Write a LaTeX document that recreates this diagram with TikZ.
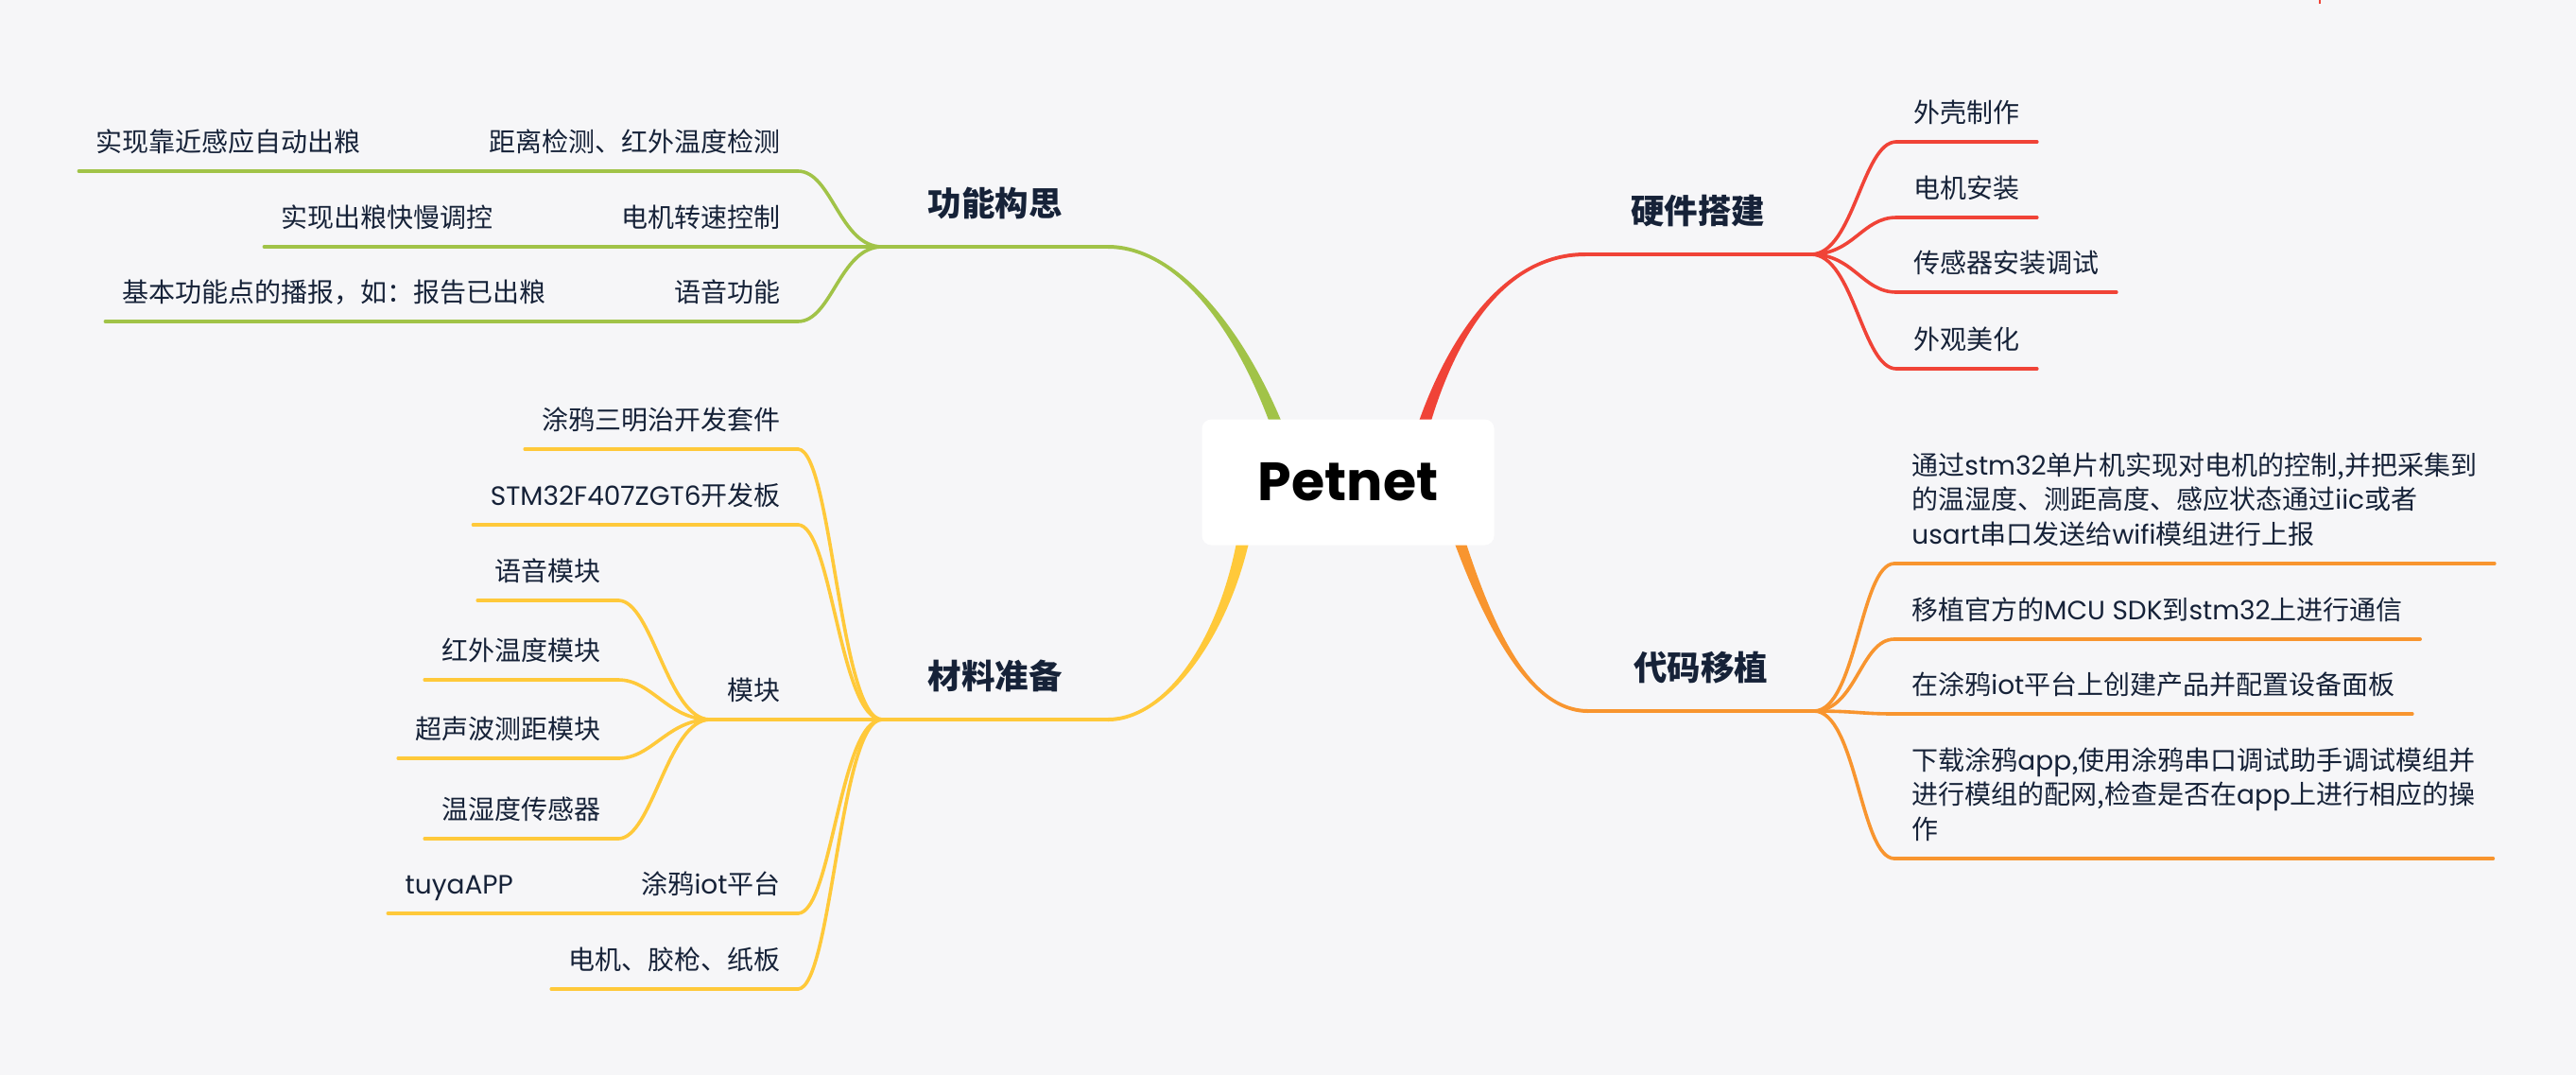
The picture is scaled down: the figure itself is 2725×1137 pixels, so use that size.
\documentclass[tikz,border=0pt]{standalone}
\usepackage{fontspec}
\setmainfont{Noto Sans CJK SC}
\newfontfamily\lat{Poppins}
\newfontfamily\titlefont{Poppins}
\usepackage{tikz}
\usepackage{xcolor}
\usetikzlibrary{
    calc,
    positioning
}
\definecolor{paper}{RGB}{246,246,248}
\definecolor{ink}{RGB}{22,34,56}
\definecolor{leafgreen}{RGB}{161,195,72}
\definecolor{hwred}{RGB}{240,67,55}
\definecolor{codeorange}{RGB}{248,149,47}
\definecolor{matyellow}{RGB}{255,201,58}
\newcommand{\mainbranch}[6]{%
    \fill[#1] ($#2+(-7,0)$) .. controls ($#3+(-5,0)$) and ($#4+(0,2*#6)$) .. ($#5+(0,2*#6)$)
        -- ($#5+(0,-2*#6)$) .. controls ($#4+(0,-2*#6)$) and ($#3+(5,0)$) .. ($#2+(7,0)$) -- cycle;}

\begin{document}
\begin{tikzpicture}[x=0.5pt, y=-0.5pt,
    leaf/.style={font=\fontsize{14}{18.25}\selectfont, text=ink, inner xsep=9pt, inner ysep=10.2pt, text depth=0pt, align=left},
    topic/.style={font=\bfseries\fontsize{17.75}{20}\selectfont, text=ink, inner xsep=24pt, inner ysep=16.25pt, text depth=0pt},
    root/.style={fill=white, rounded corners=5pt, minimum width=154.5pt, minimum height=66.5pt, text=black, font=\titlefont\bfseries\fontsize{28.5}{30}\selectfont},
    twig/.style={line width=1.8pt, line cap=round}]
                        \fill[paper] (0,0) rectangle (2725,1137);
                        \useasboundingbox (0,0) rectangle (2725,1137);
                        \draw[hwred, line width=0.8pt] (2454,0) -- (2454,4);

                        \node[topic, anchor=south east] (fn) at (1172,261) {功能构思};
                        \node[leaf, anchor=south east] (fn1) at (844,181) {距离检测、红外温度检测};
                        \node[leaf, anchor=south east] (fn2) at (844,261) {电机转速控制};
                        \node[leaf, anchor=south east] (fn3) at (844,340) {语音功能};
                        \node[leaf, left=49.5pt of fn1.south west, anchor=south east] (fn1a) {实现靠近感应自动出粮};
                        \node[leaf, left=49.5pt of fn2.south west, anchor=south east] (fn2a) {实现出粮快慢调控};
                        \node[leaf, left=49.5pt of fn3.south west, anchor=south east] (fn3a) {基本功能点的播报，如：报告已出粮};

                        \node[topic, anchor=south west] (hw) at (1677,269) {硬件搭建};
                        \node[leaf, anchor=south west] (hw1) at (2006,150) {外壳制作};
                        \node[leaf, anchor=south west] (hw2) at (2006,230) {电机安装};
                        \node[leaf, anchor=south west] (hw3) at (2006,309) {传感器安装调试};
                        \node[leaf, anchor=south west] (hw4) at (2006,390) {外观美化};

                        \node[topic, anchor=south west] (cd) at (1680,752) {代码移植};
                        \node[leaf, anchor=south west] (cd1) at (2004,596) {通过{\lat stm32}单片机实现对电机的控制,并把采集到\\的温湿度、测距高度、感应状态通过{\lat iic}或者\\{\lat usart}串口发送给{\lat wifi}模组进行上报};
                        \node[leaf, anchor=south west] (cd2) at (2004,676) {移植官方的{\lat MCU SDK}到{\lat stm32}上进行通信};
                        \node[leaf, anchor=south west] (cd3) at (2004,755) {在涂鸦{\lat iot}平台上创建产品并配置设备面板};
                        \node[leaf, anchor=south west] (cd4) at (2004,908) {下载涂鸦{\lat app},使用涂鸦串口调试助手调试模组并\\进行模组的配网,检查是否在{\lat app}上进行相应的操\\作};

                        \node[topic, anchor=south east] (mt) at (1172,761) {材料准备};
                        \node[leaf, anchor=south east] (mt1) at (844,475) {涂鸦三明治开发套件};
                        \node[leaf, anchor=south east] (mt2) at (844,555) {{\lat STM32F407ZGT6}开发板};
                        \node[leaf, anchor=south east] (mt3) at (844,761) {模块};
                        \node[leaf, anchor=south east] (mt3a) at (654,635) {语音模块};
                        \node[leaf, anchor=south east] (mt3b) at (654,719) {红外温度模块};
                        \node[leaf, anchor=south east] (mt3c) at (654,802) {超声波测距模块};
                        \node[leaf, anchor=south east] (mt3d) at (654,887) {温湿度传感器};
                        \node[leaf, anchor=south east] (mt4) at (844,966) {涂鸦{\lat iot}平台};
                        \node[leaf, left=49.5pt of mt4.south west, anchor=south east] (mt4a) {\lat tuyaAPP};
                        \node[leaf, anchor=south east] (mt5) at (844,1046) {电机、胶枪、纸板};

                        \mainbranch{leafgreen}{(1358,470)}{(1320,360)}{(1250,261)}{(fn.south east)}{1}
                        \mainbranch{hwred}{(1500,470)}{(1525,380)}{(1580,269)}{(hw.south west)}{-1}
                        \mainbranch{matyellow}{(1319,550)}{(1300,670)}{(1235,761)}{(mt.south east)}{-1}
                        \mainbranch{codeorange}{(1530,530)}{(1565,640)}{(1610,752)}{(cd.south west)}{1}

                        \foreach \n in {fn, fn1, fn2, fn3, fn1a, fn2a, fn3a}
                            \draw[twig, leafgreen] (\n.south west) -- (\n.south east);
                        \foreach \n in {hw, hw1, hw2, hw3, hw4}
                            \draw[twig, hwred] (\n.south west) -- (\n.south east);
                        \foreach \n in {cd, cd1, cd2, cd3, cd4}
                            \draw[twig, codeorange] (\n.south west) -- (\n.south east);
                        \foreach \n in {mt, mt1, mt2, mt3, mt3a, mt3b, mt3c, mt3d, mt4, mt4a, mt5}
                            \draw[twig, matyellow] (\n.south west) -- (\n.south east);

                        \foreach \n in {fn1, fn2, fn3}
                            \draw[twig, leafgreen] (fn.south west) .. controls +(-45,0) and +(36,0) .. (\n.south east);
                        \draw[twig, leafgreen]
                        (fn1a.south east) edge (fn1.south west)
                        (fn2a.south east) edge (fn2.south west)
                        (fn3a.south east) edge (fn3.south west);
                        \foreach \n in {hw1, hw2, hw3, hw4}
                            \draw[twig, hwred] (hw.south east) .. controls +(45,0) and +(-36,0) .. (\n.south west);
                        \foreach \n in {cd1, cd2, cd3, cd4}
                            \draw[twig, codeorange] (cd.south east) .. controls +(45,0) and +(-36,0) .. (\n.south west);
                        \foreach \n in {mt1, mt2, mt3, mt4, mt5}
                            \draw[twig, matyellow] (mt.south west) .. controls +(-45,0) and +(36,0) .. (\n.south east);
                        \foreach \n in {mt3a, mt3b, mt3c, mt3d}
                            \draw[twig, matyellow] (mt3.south west) .. controls +(-45,0) and +(36,0) .. (\n.south east);
                        \draw[twig, matyellow] (mt4a.south east) -- (mt4.south west);

                        \node[root] (root) at (1426,510) {Petnet};
                    \end{tikzpicture}
\end{document}
